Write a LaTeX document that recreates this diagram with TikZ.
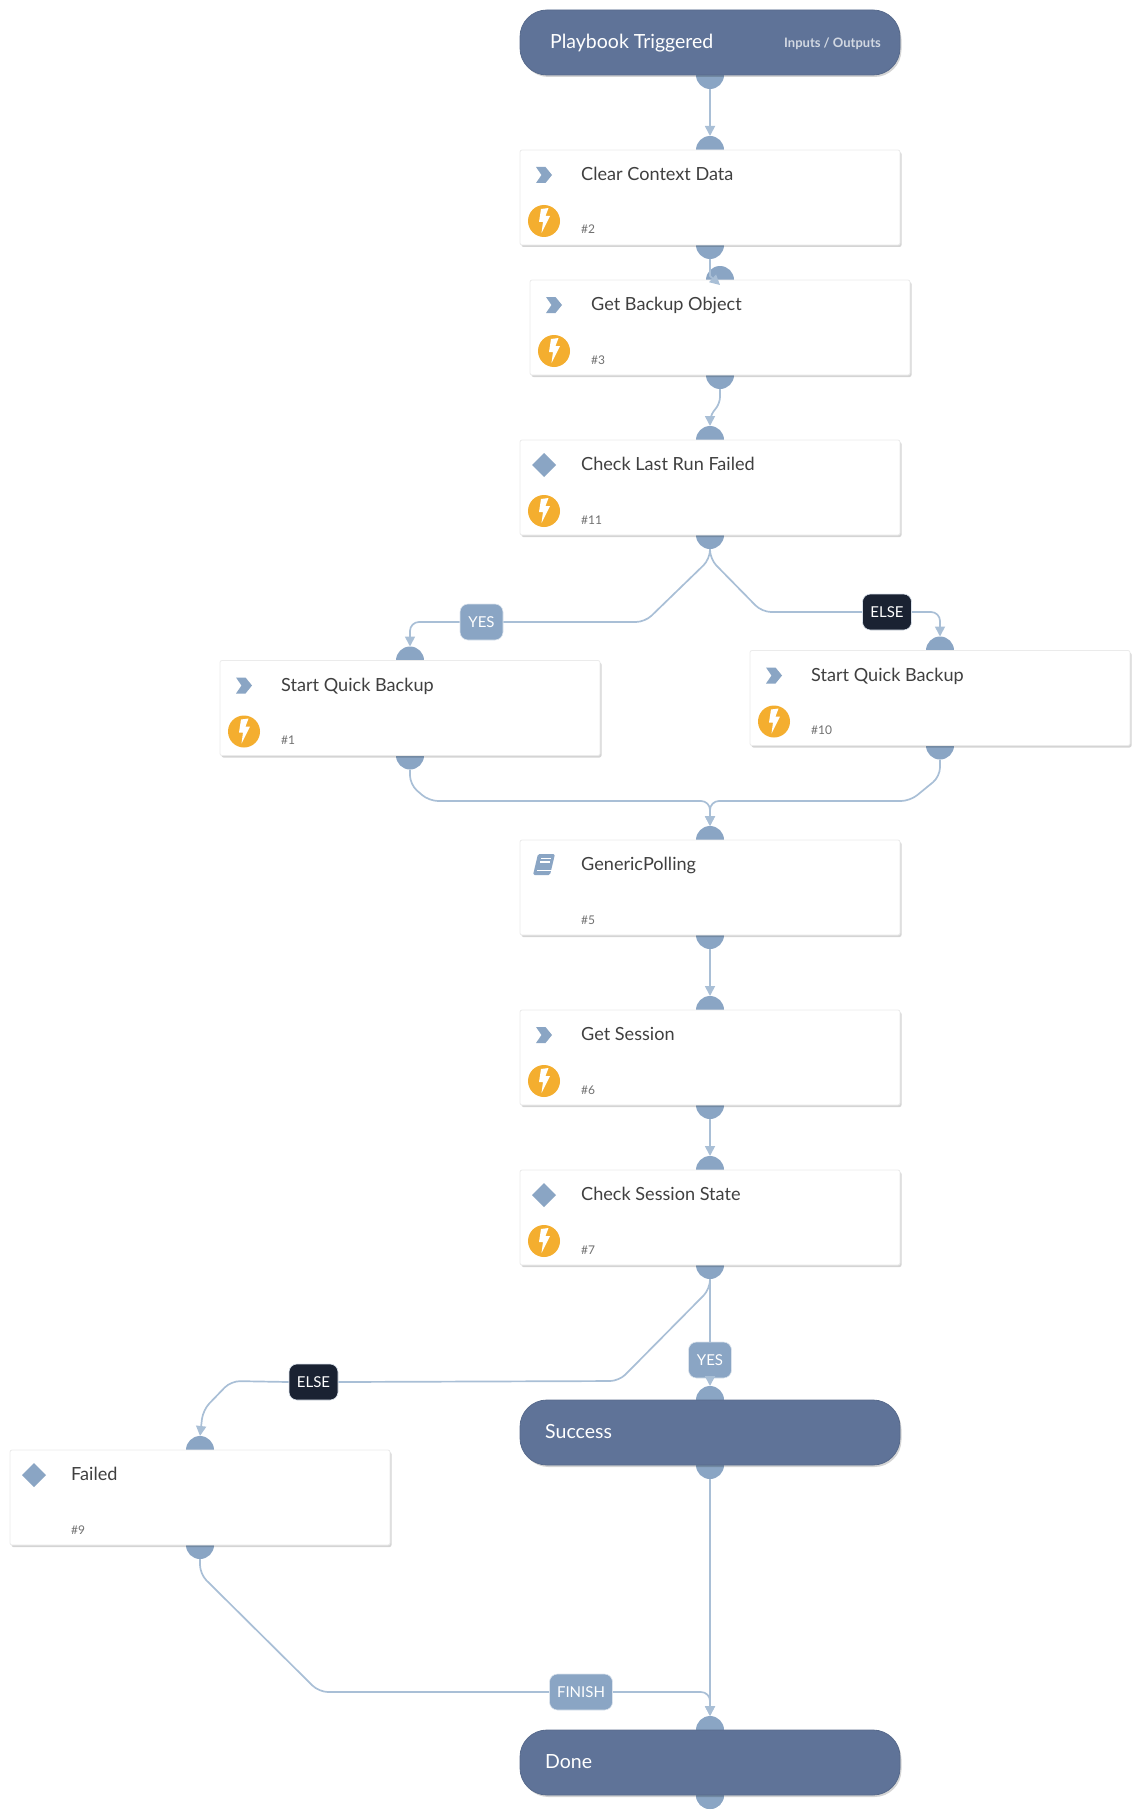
\documentclass[tikz,border=0pt]{standalone}
\usepackage{fontspec}
\setmainfont{Lato}
\usetikzlibrary{arrows.meta, positioning, backgrounds, calc, shadows}
\definecolor{nodeblue}{HTML}{5F7398}
\definecolor{portblue}{HTML}{8AA5C4}
\definecolor{lineblue}{HTML}{A9BFD6}
\definecolor{elsedark}{HTML}{1A2232}
\definecolor{boltorange}{HTML}{F4AE2F}
\definecolor{titlegrey}{HTML}{404040}
\definecolor{idgrey}{HTML}{707070}
\tikzset{
  softshadow/.style = {drop shadow={shadow xshift=1.5pt, shadow yshift=-2pt,
                     fill=black, opacity=0.17}},
  taskbox/.style  = {draw=black!8, fill=white, line width=0.8pt, rounded corners=2pt,
                     minimum width=380pt, minimum height=95pt, inner sep=0pt,
                     outer sep=0pt, softshadow},
  pillbox/.style  = {draw=nodeblue!92!black, fill=nodeblue, line width=0.8pt,
                     rounded corners=27pt, minimum width=380pt, minimum height=65pt,
                     inner sep=0pt, outer sep=0pt, softshadow},
  port/.style     = {circle, fill=portblue, minimum size=28pt, inner sep=0pt, outer sep=0pt},
  tasktitle/.style = {font=\fontsize{18.1}{19}\selectfont, text=titlegrey, anchor=base west, inner sep=0pt},
  taskid/.style   = {font=\fontsize{12}{12}\selectfont, text=idgrey, anchor=base west, inner sep=0pt},
  pilltitle/.style = {font=\fontsize{19.5}{20}\selectfont, text=white, anchor=base west, inner sep=0pt},
  iolink/.style   = {font=\fontsize{13}{13}\selectfont\bfseries, text=white!72!nodeblue, anchor=base east, inner sep=0pt},
  flow/.style     = {draw=lineblue, line width=1.7pt, rounded corners=9pt},
  flowend/.style  = {flow, -{Triangle[length=10pt, width=10pt]}},
  yeslbl/.style   = {font=\fontsize{15}{15}\selectfont, text=white, fill=portblue, draw=white!70!portblue,
                     line width=0.6pt, rounded corners=8pt, minimum height=36pt, inner sep=0pt},
  elselbl/.style  = {yeslbl, fill=elsedark, draw=white!70!portblue},
  chevicon/.pic   = {\fill[portblue] (-8,-8) -- (1.5,-8) -- (8,0) -- (1.5,8) -- (-8,8) -- (-2.5,0) -- cycle;},
  diamicon/.pic   = {\fill[portblue] (-12,0) -- (0,-12) -- (12,0) -- (0,12) -- cycle;},
  bookicon/.pic   = {\fill[portblue, rounded corners=1.5pt] (-6,-11) -- (11,-11) -- (6,10) -- (-11,10) -- cycle;
                     \draw[white, line width=1.2pt] (-3,-6.5) -- (6.5,-6.5) (-4,-3) -- (5.5,-3);
                     \draw[white, line width=1.2pt] (9,5.5) -- (-7,5.5);},
  bolticon/.pic   = {\fill[boltorange] (0,0) circle (16);
                     \fill[white] (-3,-12) -- (4.5,-13) -- (1.5,-5) -- (6,-5) -- (-2.5,12) -- (-1,1) -- (-5,1) -- cycle;},
}
% task box with title, number and icons
\newcommand{\taskitem}[6]{
  \node[taskbox, #2] (#1) {};
  \node[tasktitle] at ($(#1.north west)+(61,30.5)$) {#3};
  \node[taskid] at ($(#1.north west)+(61,84)$) {#4};
  \pic at ($(#1.north west)+(24,25)$) {#5icon};
  \ifx\relax#6\relax\else\pic at ($(#1.north west)+(24,71)$) {bolticon};\fi
  \begin{scope}[on background layer]
    \node[port] (#1-in) at (#1.north) {};
    \node[port] (#1-out) at (#1.south) {};
  \end{scope}
}
\newcommand{\pillitem}[3]{
  \node[pillbox, #2] (#1) {};
  \node[pilltitle] at ($(#1.west)+(25,6)$) {#3};
  \begin{scope}[on background layer]
    \node[port] (#1-in) at (#1.north) {};
    \node[port] (#1-out) at (#1.south) {};
  \end{scope}
}
\begin{document}
\begin{tikzpicture}[x=1pt, y=-1pt]
  \useasboundingbox (0,0) rectangle (1140,1819);
  % main column
  \node[pillbox] (start) at (710,42.5) {};
  \node[pilltitle] at ($(start.west)+(30,6)$) {Playbook Triggered};
  \node[iolink] at ($(start.east)+(-19,5)$) {Inputs / Outputs};
  \begin{scope}[on background layer]
    \node[port] (start-out) at (start.south) {};
  \end{scope}
  \taskitem{clear}{below=75pt of start}{Clear Context Data}{\#2}{chev}{b}
  \taskitem{backup}{below=35pt of clear, xshift=10pt}{Get Backup Object}{\#3}{chev}{b}
  \taskitem{lastrun}{at={(710,487.5)}}{Check Last Run Failed}{\#11}{diam}{b}
  \taskitem{quickyes}{at={(410,708)}}{Start Quick Backup}{\#1}{chev}{b}
  \taskitem{quickelse}{at={(940,698)}}{Start Quick Backup}{\#10}{chev}{b}
  \taskitem{polling}{at={(710,887.5)}}{GenericPolling}{\#5}{book}{}
  \taskitem{session}{below=75pt of polling}{Get Session}{\#6}{chev}{b}
  \taskitem{state}{below=65pt of session}{Check Session State}{\#7}{diam}{b}
  \pillitem{success}{below=135pt of state}{Success}
  \taskitem{failed}{at={(200,1497.5)}}{Failed}{\#9}{diam}{}
  \pillitem{done}{below=265pt of success}{Done}
  % branch labels
  \node[yeslbl, minimum width=43pt] (yes1) at (481.5,622) {YES};
  \node[elselbl, minimum width=49pt] (else1) at (887,612) {ELSE};
  \node[yeslbl, minimum width=43pt] (yes2) at (710,1360) {YES};
  \node[elselbl, minimum width=49pt] (else2) at (313.5,1382) {ELSE};
  \node[yeslbl, minimum width=63pt] (finish) at (581,1692) {FINISH};
  % connectors
  \draw[flowend] (start-out.south) -- (clear-in.north);
  \draw[flowend, rounded corners=0pt] (clear-out.south) -- ++(0,17) -- ($(backup-in.center)+(0,5)$);
  \draw[flowend, rounded corners=6pt] (backup-out.south) -- ++(0,14) -- ++(-10,13) -- (lastrun-in.north);
  \draw[flow] (lastrun-out.south) -- ++(0,10) -- (645,622) -- (yes1.east);
  \draw[flowend] (yes1.west) -- (410,622) -- (quickyes-in.north);
  \draw[flow] (lastrun-out.south) -- ++(0,10) -- (762,612) -- (else1.west);
  \draw[flowend] (else1.east) -- (940,612) -- (quickelse-in.north);
  \draw[flowend] (quickyes-out.south) -- ++(0,15) -- (429,801) -- (710,801) -- (polling-in.north);
  \draw[flowend] (quickelse-out.south) -- ++(0,17) -- (910,801) -- (710,801) -- (polling-in.north);
  \draw[flowend] (polling-out.south) -- (session-in.north);
  \draw[flowend] (session-out.south) -- (state-in.north);
  \draw[flow, rounded corners=0pt] (state-out.south) -- (yes2.north);
  \draw[flowend] (yes2.south) -- (success-in.north);
  \draw[flow] (state-out.south) -- ++(0,10) -- (619,1381) -- (else2.east);
  \draw[flowend] (else2.west) -- (231,1381) -- (203,1410) -- (failed-in.north);
  \draw[flow] (failed-out.south) -- ++(0,15) -- (319,1692) -- (finish.west);
  \draw[flowend] (finish.east) -- (710,1692) -- (done-in.north);
  \draw[flowend] (success-out.south) -- (done-in.north);
  \begin{scope}[on background layer]
    \node[port] at (done.south) {};
  \end{scope}
\end{tikzpicture}
\end{document}
